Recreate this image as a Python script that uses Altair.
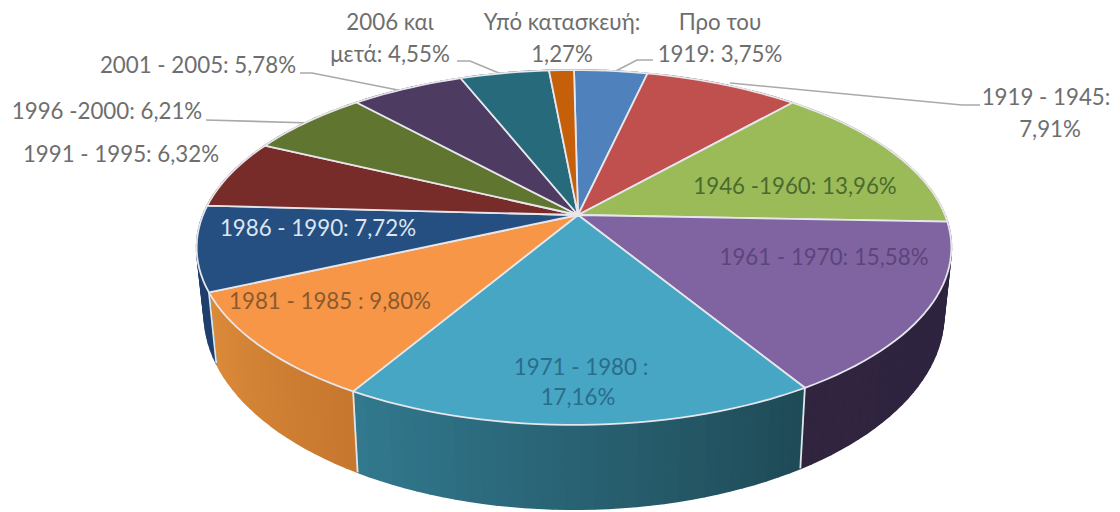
import math
import altair as alt

# ---- values ----
periods = ["Προ του 1919", "1919 - 1945", "1946 -1960", "1961 - 1970", "1971 - 1980", "1981 - 1985",
           "1986 - 1990", "1991 - 1995", "1996 -2000", "2001 - 2005", "2006 και μετά", "Υπό κατασκευή"]
shares = [3.75, 7.91, 13.96, 15.58, 17.16, 9.80, 7.72, 6.32, 6.21, 5.78, 4.55, 1.27]
top_colors = ["#4F81BD", "#C0504D", "#9BBB59", "#8064A2", "#46A6C3", "#F79646",
              "#254F80", "#772C2A", "#5F7530", "#4D3B62", "#276A7C", "#C65F0A"]
side_from = ["#2E5077", "#7A3230", "#627638", "#30243F", "#32798F", "#DC8A3A",
             "#1F3F6E", "#4A1C1A", "#3C4A1E", "#30253E", "#184350", "#7D3C06"]
side_to = ["#2E5077", "#7A3230", "#627638", "#2E2440", "#1F4A56", "#C6782E",
           "#1F3F6E", "#4A1C1A", "#3C4A1E", "#30253E", "#184350", "#7D3C06"]

label_lines = ["2006 και", "μετά: 4,55%", "Υπό κατασκευή:", "1,27%", "Προ του", "1919: 3,75%",
               "2001 - 2005: 5,78%", "1996 -2000: 6,21%", "1991 - 1995: 6,32%",
               "1919 - 1945:", "7,91%", "1946 -1960: 13,96%", "1961 - 1970: 15,58%",
               "1971 - 1980 :", "17,16%", "1981 - 1985 : 9,80%", "1986 - 1990: 7,72%"]
label_colors = ["#6E6E6E"] * 11 + ["#4B6A2E", "#5B4579", "#2C6C8C", "#2C6C8C", "#8A5A30", "#DCE6F2"]
label_x = [390, 390, 562, 562, 720, 720, 198, 107, 121, 1046, 1050, 795, 824, 581, 578, 330, 318]
label_y = [23, 55, 23, 55, 23, 55, 66, 112, 155, 98, 130, 187, 258, 368, 398, 302, 229]

leaders = [
    [(300, 73), (312, 73), (408, 92)],
    [(206, 120), (312, 123)],
    [(457, 61), (470, 61), (506, 76)],
    [(653, 60), (637, 60), (610, 74)],
    [(980, 105), (962, 105), (730, 83)],
]

# ---- perspective view of the disc ----
CX, CY, RX, B, Q = 578, 215, 371, 171.5, 0.183
RIM_SHIFT = -4
PAGE = 8


def rim(frac):
    a = 2 * math.pi * frac
    u, v = math.sin(a), -math.cos(a)
    d = 1 - Q * v
    return (CX + RIM_SHIFT + RX * u / d, CY + B * v / d)


def floor(p):
    return (CX + (p[0] - CX) * 0.98, 363 + 1.1 * (p[1] - 292))


def lerp_hex(c1, c2, t):
    a = [int(c1[i:i + 2], 16) for i in (1, 3, 5)]
    b = [int(c2[i:i + 2], 16) for i in (1, 3, 5)]
    return "#" + "".join(f"{round(x + (y - x) * t):02X}" for x, y in zip(a, b))


def collection(features):
    return alt.Data(values={"type": "FeatureCollection", "features": features},
                    format=alt.DataFormat(property="features", type="json"))


total = sum(shares)
edges = [0.0]
for s in shares:
    edges.append(edges[-1] + s / total)

tops, strips, seams = [], [], []
for i, name in enumerate(periods):
    f0, f1 = edges[i], edges[i + 1]
    n = max(2, int((f1 - f0) * 200))
    steps = [f0 + (f1 - f0) * k / n for k in range(n + 1)]
    ring = [rim(f) for f in steps]
    tops.append({"type": "Feature", "properties": {"name": name, "color": top_colors[i]},
                 "geometry": {"type": "Polygon", "coordinates": [[(CX, CY)] + ring + [(CX, CY)]]}})
    for k in range(n):
        # strips run right to left on the front of the disc
        t = 1 - (k + 0.5) / n
        col = lerp_hex(side_from[i], side_to[i], t)
        p0, p1 = ring[k], ring[k + 1]
        strips.append({"type": "Feature", "properties": {"color": col},
                       "geometry": {"type": "Polygon",
                                    "coordinates": [[p0, p1, floor(p1), floor(p0), p0]]}})

for b in (4, 5, 6):
    p = rim(edges[b])
    seams.append({"type": "Feature", "properties": {},
                  "geometry": {"type": "LineString", "coordinates": [p, floor(p)]}})

leader_features = [{"type": "Feature", "properties": {},
                    "geometry": {"type": "LineString", "coordinates": line}} for line in leaders]

proj = dict(type="identity", scale=1, translate=[-PAGE, -PAGE])

leader_layer = alt.Chart(collection(leader_features)).mark_geoshape(
    filled=False, stroke="#A9A9A9", strokeWidth=1.6).project(**proj)

side_layer = alt.Chart(collection(strips)).mark_geoshape(strokeWidth=1.6, strokeJoin="round").encode(
    fill=alt.Fill("properties.color:N", scale=None),
    stroke=alt.Stroke("properties.color:N", scale=None),
).project(**proj)

seam_layer = alt.Chart(collection(seams)).mark_geoshape(
    filled=False, stroke="#DDE6EA", strokeWidth=1.8).project(**proj)

top_layer = alt.Chart(collection(tops)).mark_geoshape(
    stroke="#E6E6EC", strokeWidth=1.8, strokeJoin="round").encode(
    fill=alt.Fill("properties.color:N", scale=None),
).project(**proj)

text_rows = [{"t": t, "c": c, "x": x - PAGE, "y": y - PAGE}
             for t, c, x, y in zip(label_lines, label_colors, label_x, label_y)]
text_layer = alt.Chart(alt.Data(values=text_rows)).mark_text(
    font="Lato", fontSize=22.3, align="center", baseline="middle").encode(
    x=alt.X("x:Q", scale=None, axis=None),
    y=alt.Y("y:Q", scale=None, axis=None),
    text="t:N",
    color=alt.Color("c:N", scale=None),
)

chart = alt.layer(leader_layer, side_layer, seam_layer, top_layer, text_layer).properties(
    width=1104, height=504, padding=0, background="white",
    autosize=alt.AutoSizeParams(type="none"),
).configure_view(stroke=None)

chart.save("out.html", embed_options={"renderer": "svg", "actions": False})
